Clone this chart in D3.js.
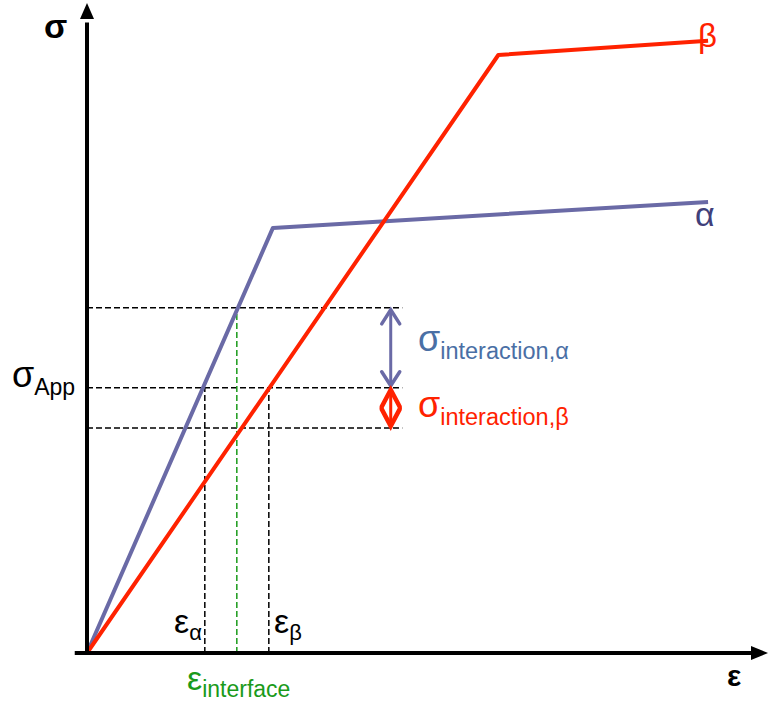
<!DOCTYPE html>
<html><head><meta charset="utf-8">
<script src="https://cdn.jsdelivr.net/npm/d3@7"></script>
<style>body{margin:0;background:#fff}svg{display:block;font-family:"Liberation Sans",Arial,sans-serif}</style>
</head><body><svg id="c" width="768" height="710"></svg>
<script>
// data (strain ε, stress σ in arbitrary units)
const alphaCurve = [[0,0],[27.3,65.4],[91.2,69.4]];
const betaCurve  = [[0,0],[60.4,92.0],[91.2,94.2]];
const sigmaLevels = {top:53.1, app:40.8, bottom:34.6};
const strainLevels = {alpha:17.3, interface:22.0, beta:26.7};
const dashEnd = 46.3;
const arrowX = 44.6;
const axisExtent = {xMin:-1.8, xMax:100, yMin:-0.3, yMax:100};

const svg = d3.select("#c");
const x = d3.scaleLinear().domain([0,100]).range([87,768]);
const y = d3.scaleLinear().domain([0,100]).range([653,3]);
const line = d3.line().x(d=>x(d[0])).y(d=>y(d[1]));

const BLUE="#6a6aa6", RED="#ff2200", GREEN="#1a9a1a";

// dashed guides
const dash = svg.append("g").attr("stroke","#000").attr("stroke-width",1.5).attr("stroke-dasharray","6,3").attr("fill","none");
[sigmaLevels.top, sigmaLevels.app, sigmaLevels.bottom].forEach(s=>{
  dash.append("path").attr("d", line([[0,s],[dashEnd,s]]));
});
dash.append("path").attr("d", line([[strainLevels.alpha,0],[strainLevels.alpha,sigmaLevels.app]]));
dash.append("path").attr("d", line([[strainLevels.beta,0],[strainLevels.beta,sigmaLevels.app]]));
svg.append("path").attr("d", line([[strainLevels.interface,0],[strainLevels.interface,sigmaLevels.top]]))
  .attr("stroke",GREEN).attr("stroke-width",1.5).attr("stroke-dasharray","6,3").attr("fill","none");

// curves
svg.append("path").attr("d", line(alphaCurve)).attr("stroke",BLUE).attr("stroke-width",4).attr("fill","none").attr("stroke-linejoin","round");
svg.append("path").attr("d", line(betaCurve)).attr("stroke",RED).attr("stroke-width",4).attr("fill","none").attr("stroke-linejoin","round");

// axes
const ax = svg.append("g");
ax.append("path").attr("d", line([[0,axisExtent.yMin],[0,97]])).attr("stroke","#000").attr("stroke-width",4);
ax.append("path").attr("d", line([[axisExtent.xMin,0],[97.5,0]])).attr("stroke","#000").attr("stroke-width",4);
const yTip=[x(0),y(axisExtent.yMax)], xTip=[x(axisExtent.xMax), y(0)];
ax.append("path").attr("d",`M${yTip[0]},${yTip[1]} L${yTip[0]-7},${yTip[1]+16} L${yTip[0]+7},${yTip[1]+16}Z`).attr("fill","#000");
ax.append("path").attr("d",`M${xTip[0]},${xTip[1]} L${xTip[0]-17},${xTip[1]-7} L${xTip[0]-17},${xTip[1]+7}Z`).attr("fill","#000");

// interaction arrows
function dbl(s0,s1,color,headLen,half,sw){
  const g=svg.append("g").attr("stroke",color).attr("stroke-width",sw).attr("fill","none").attr("stroke-linecap","round").attr("stroke-linejoin","miter");
  const cx=x(arrowX), ya=y(s0)+2, yb=y(s1)-2;
  g.append("path").attr("d",`M${cx},${ya}V${yb}`).attr("stroke-width",3);
  g.append("path").attr("d",`M${cx-half},${ya+headLen}L${cx},${ya}L${cx+half},${ya+headLen}`);
  g.append("path").attr("d",`M${cx-half},${yb-headLen}L${cx},${yb}L${cx+half},${yb-headLen}`);
}
dbl(sigmaLevels.top, sigmaLevels.app, BLUE, 14, 9, 3.5);
dbl(sigmaLevels.app, sigmaLevels.bottom, RED, 17, 9, 4.5);

// labels
function lab(px,py,main,sub,color,size,subSize,bold){
  const t=svg.append("text").attr("x",px).attr("y",py).attr("fill",color).attr("font-size",size);
  if(bold) t.attr("font-weight","bold");
  t.append("tspan").text(main);
  if(sub) t.append("tspan").attr("font-size",subSize).attr("dy",size*0.22).text(sub);
  return t;
}
lab(44,38,"σ",null,"#000",34,0,true);
lab(727,686,"ε",null,"#000",30,0,true);
lab(698,47,"β",null,RED,33);
lab(695,226,"α",null,"#40407a",34);
lab(12,387,"σ","App","#000",36,23);
lab(418,351,"σ","interaction,α","#4a6fa5",36,23.5);
lab(418,417,"σ","interaction,β",RED,36,23.5);
lab(174,633,"ε","α","#000",34,22);
lab(274,633,"ε","β","#000",34,22);
lab(187,690,"ε","interface",GREEN,34,23);
</script></body></html>
